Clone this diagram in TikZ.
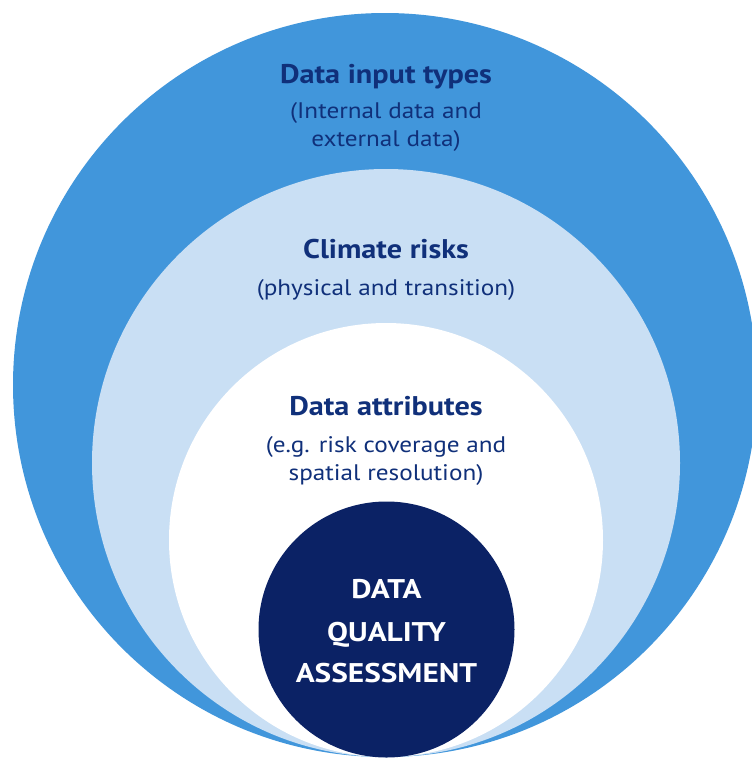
\documentclass[tikz,border=0pt]{standalone}
\usepackage{fontspec}
\setmainfont{PT Sans}
\newfontfamily\widefont[FakeStretch=1.12]{PT Sans}
\newfontfamily\corefont[FakeStretch=1.16]{PT Sans}
\definecolor{outerblue}{HTML}{4196DB}
\definecolor{lightblue}{HTML}{C9DFF4}
\definecolor{navy}{HTML}{0B2265}
\definecolor{textnavy}{HTML}{10307A}
\tikzset{
  head/.style={text=textnavy, font=\widefont\bfseries\fontsize{27}{30}\selectfont, inner sep=0pt, anchor=base},
  sub/.style={text=textnavy, font=\widefont\fontsize{22.5}{28}\selectfont, inner sep=0pt, anchor=base},
  core/.style={text=white, font=\corefont\bfseries\fontsize{27}{30}\selectfont, inner sep=0pt, anchor=base},
}
\begin{document}
\begin{tikzpicture}[x=1pt,y=-1pt]
\useasboundingbox (0,0) rectangle (752,758);
\begin{scope}
\clip (0,0) rectangle (752,758);
\fill[outerblue] (385,385) circle (372);
\fill[lightblue] (386,463) circle (294);
\fill[white] (386,540) circle (217);
\fill[navy] (386.5,629.5) circle (128);
\end{scope}
\node[head] (h1) at (386,83) {Data input types};
\node[sub] (s1a) at (386,118) {(Internal data and};
\node[sub] (s1b) at (386,146) {external data)};
\node[head] (h2) at (386,258) {Climate risks};
\node[sub] (s2) at (386,295) {(physical and transition)};
\node[head] (h3) at (386,415) {Data attributes};
\node[sub] (s3a) at (386,452) {(e.g. risk coverage and};
\node[sub] (s3b) at (386,480) {spatial resolution)};
\node[core] (c1) at (386.5,598) {DATA};
\node[core] (c2) at (386.5,641) {QUALITY};
\node[core] (c3) at (386.5,682) {ASSESSMENT};
\end{tikzpicture}
\end{document}
